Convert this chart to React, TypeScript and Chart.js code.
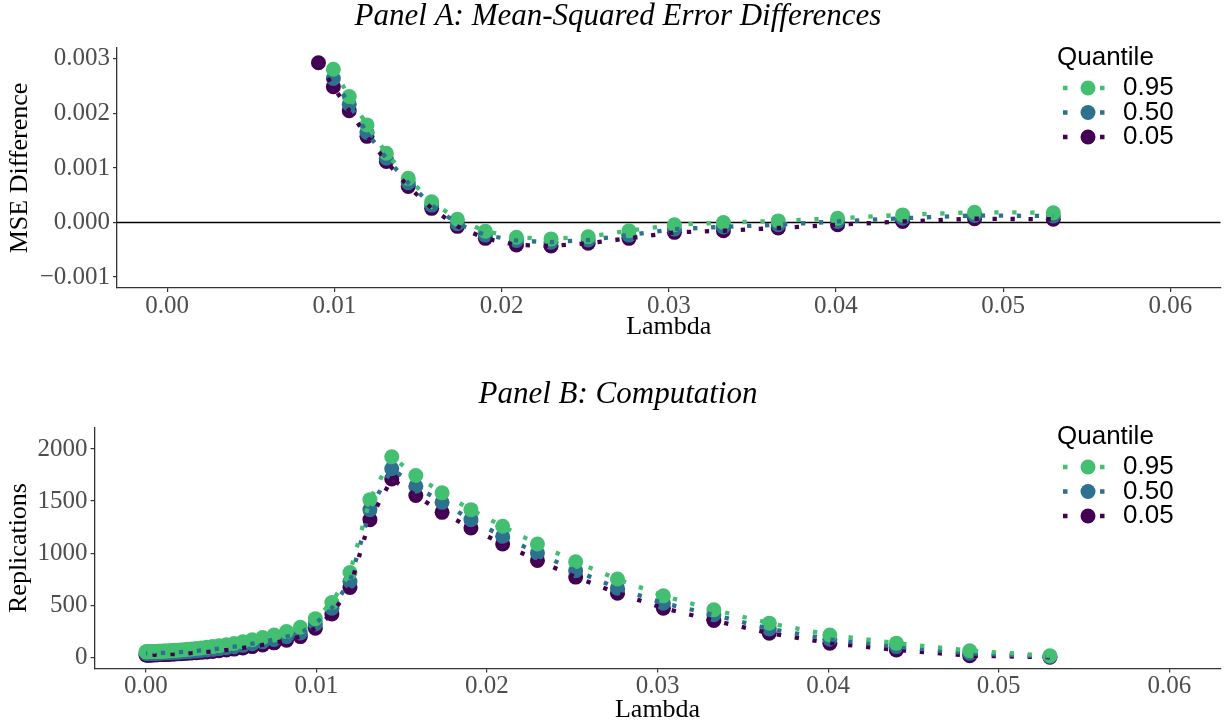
import React, { useEffect, useRef } from "react";
import { Chart, registerables } from "chart.js";

Chart.register(...registerables);

const SERIF = '"Liberation Serif", "Times New Roman", Times, serif';
const SANS = '"Liberation Sans", Arial, Helvetica, sans-serif';

const SERIES_LABELS = ["0.95", "0.50", "0.05"];
const SERIES_COLORS = ["#43BF71", "#2D718E", "#440154"];

const X_TICKS = [0, 0.01, 0.02, 0.03, 0.04, 0.05, 0.06];
const A_Y_TICKS = [-0.001, 0, 0.001, 0.002, 0.003];
const B_Y_TICKS = [0, 500, 1000, 1500, 2000];

// Panel A: MSE differences
const A_LAMBDA = [
  0.00905, 0.00994, 0.01089, 0.01195, 0.01311, 0.01442, 0.01582, 0.01736, 0.01903, 0.02089,
  0.02296, 0.02518, 0.02762, 0.03034, 0.03327, 0.03655, 0.0401, 0.04399, 0.04829, 0.053,
];
const A_Q95 = [
  null, 0.00281, 0.00231, 0.00179, 0.00127, 0.00081, 0.00038, 0.00006, -0.00016, -0.00027,
  -0.0003, -0.00026, -0.00015, -0.00004, 0.0, 0.00003, 0.00008, 0.00014, 0.00019, 0.00018,
];
const A_Q50 = [
  null, 0.00264, 0.00217, 0.00165, 0.00118, 0.00073, 0.00032, -0.00002, -0.00023, -0.00033,
  -0.00036, -0.00032, -0.00023, -0.00012, -0.00008, -0.00004, 0.00002, 0.00008, 0.00013, 0.00012,
];
const A_Q05 = [
  0.00293, 0.00249, 0.00205, 0.00158, 0.00112, 0.00066, 0.00026, -0.00007, -0.00029, -0.00041,
  -0.00043, -0.00038, -0.00029, -0.00018, -0.00015, -0.0001, -0.00004, 0.00002, 0.00007, 0.00006,
];

// Panel B: computation (replications)
const B_LAMBDA = [
  0.053, 0.0483, 0.044, 0.0401, 0.03655, 0.0333, 0.03034, 0.02765, 0.0252, 0.02296,
  0.02092, 0.01906, 0.01737, 0.01583, 0.01442, 0.01314, 0.01197, 0.01091, 0.00994, 0.00906,
  0.00825, 0.00752, 0.00685, 0.00624, 0.00569, 0.00518, 0.00472, 0.0043, 0.00392, 0.00357,
  0.00325, 0.00297, 0.0027, 0.00246, 0.00224, 0.00204, 0.00186, 0.0017, 0.00155, 0.00141,
  0.00128, 0.00117, 0.00107, 0.00097, 0.00088, 0.0008, 0.00073, 0.00067, 0.00061, 0.00055,
  0.0005, 0.00046, 0.00042, 0.00038, 0.00035, 0.00032, 0.00029, 0.00026, 0.00024, 0.00022,
  0.0002, 0.00015, 0.0001, 0.00005, 0.00001,
];
const B_Q95 = [
  17, 65, 137, 216, 329, 457, 591, 752, 918, 1088,
  1258, 1418, 1579, 1745, 1925, 1514, 815, 527, 372, 290,
  248, 216, 192, 170, 150, 134, 122, 112, 104, 97,
  91, 86, 82, 78, 75, 72, 70, 68, 66, 65,
  63, 62, 61, 60, 60, 59, 59, 58, 58, 58,
  57, 57, 57, 57, 56, 56, 56, 56, 56, 56,
  56, 56, 55, 55, 55,
];
const B_Q50 = [
  8, 40, 104, 175, 274, 409, 521, 665, 832, 1002,
  1162, 1322, 1488, 1642, 1810, 1418, 729, 473, 322, 235,
  200, 172, 150, 132, 116, 103, 93, 85, 78, 72,
  67, 63, 59, 56, 54, 52, 50, 49, 47, 46,
  45, 45, 44, 44, 43, 43, 43, 42, 42, 42,
  42, 41, 41, 41, 41, 41, 41, 41, 40, 40,
  40, 40, 40, 40, 40,
];
const B_Q05 = [
  2, 17, 72, 137, 233, 354, 473, 617, 771, 931,
  1088, 1242, 1392, 1553, 1713, 1322, 671, 418, 281, 200,
  165, 140, 120, 104, 91, 80, 71, 64, 58, 53,
  49, 46, 43, 40, 38, 36, 35, 33, 32, 31,
  30, 30, 29, 29, 28, 28, 27, 27, 27, 26,
  26, 26, 26, 25, 25, 25, 25, 25, 25, 25,
  25, 24, 24, 24, 24,
];

const LINE_W = 4.3;
const DASH = [4.3, 13.7];
const POINT_R = 7.5;

function buildDatasets(lambda: number[], series: (number | null)[][]) {
  const lines = series.map((vals, i) => ({
    type: "line" as const,
    data: lambda.map((x, j) => ({ x, y: vals[j] })),
    borderColor: SERIES_COLORS[i],
    backgroundColor: SERIES_COLORS[i],
    borderWidth: LINE_W,
    borderDash: DASH,
    borderCapStyle: "butt" as const,
    pointRadius: 0,
    pointHoverRadius: 0,
    fill: false,
    tension: 0,
    order: 0,
  }));
  const pts = series.map((vals, i) => ({
    type: "line" as const,
    data: lambda.map((x, j) => ({ x, y: vals[j] })),
    showLine: false,
    borderColor: SERIES_COLORS[i],
    backgroundColor: SERIES_COLORS[i],
    pointBackgroundColor: SERIES_COLORS[i],
    pointBorderWidth: 0,
    pointRadius: POINT_R,
    pointHoverRadius: POINT_R,
    order: 1,
  }));
  return [...lines, ...pts];
}

function overlayPlugin(title: string, titleY: number, legendTop: number, zeroLine: boolean) {
  return {
    id: "overlay",
    beforeDatasetsDraw(chart: any) {
      if (!zeroLine) return;
      const { ctx, chartArea, scales } = chart;
      const y = scales.y.getPixelForValue(0);
      ctx.save();
      ctx.strokeStyle = "#000";
      ctx.lineWidth = 1.4;
      ctx.beginPath();
      ctx.moveTo(chartArea.left, y);
      ctx.lineTo(chartArea.right, y);
      ctx.stroke();
      ctx.restore();
    },
    afterDraw(chart: any) {
      const ctx = chart.ctx as CanvasRenderingContext2D;
      ctx.save();
      ctx.font = `italic 31px ${SERIF}`;
      ctx.fillStyle = "#000";
      ctx.textAlign = "center";
      ctx.textBaseline = "middle";
      ctx.fillText(title, 618, titleY);

      ctx.font = `26px ${SANS}`;
      ctx.textAlign = "left";
      ctx.fillText("Quantile", 1057, legendTop);
      SERIES_LABELS.forEach((lab, i) => {
        const y = legendTop + 30 + i * 24.5;
        const c = SERIES_COLORS[i];
        ctx.strokeStyle = c;
        ctx.lineWidth = LINE_W;
        ctx.lineCap = "butt";
        ctx.setLineDash([4.5, 14]);
        ctx.beginPath();
        ctx.moveTo(1063, y);
        ctx.lineTo(1106, y);
        ctx.stroke();
        ctx.setLineDash([]);
        ctx.fillStyle = c;
        ctx.beginPath();
        ctx.arc(1088, y, POINT_R, 0, Math.PI * 2);
        ctx.fill();
        ctx.fillStyle = "#000";
        ctx.fillText(lab, 1123, y);
      });
      ctx.restore();
    },
  };
}

interface PanelOpts {
  title: string;
  titleY: number;
  legendTop: number;
  zeroLine: boolean;
  lambda: number[];
  series: (number | null)[][];
  yMin: number;
  yMax: number;
  yTicks: number[];
  yFmt: (v: number) => string;
  yTitle: string;
  yTitlePad: number;
  yWidth: number;
  xHeight: number;
  xTitlePad: number;
  padTop: number;
  padRight: number;
}

function makeConfig(o: PanelOpts): any {
  const tickFont = { family: SERIF, size: 25, lineHeight: 1 };
  const titleFont = { family: SERIF, size: 26, lineHeight: 1 };
  const grid = {
    drawOnChartArea: false,
    drawTicks: true,
    tickLength: 4,
    tickColor: "#333",
    tickWidth: 1.2,
    color: "#333",
    lineWidth: 1.2,
  };
  const border = { display: true, color: "#333", width: 1.3 };
  return {
    type: "line",
    data: { datasets: buildDatasets(o.lambda, o.series) },
    options: {
      animation: false,
      responsive: false,
      maintainAspectRatio: false,
      events: [],
      layout: { padding: { top: o.padTop, right: o.padRight, left: 0, bottom: 0 } },
      plugins: { legend: { display: false }, title: { display: false }, tooltip: { enabled: false } },
      scales: {
        x: {
          type: "linear",
          min: -0.003,
          max: 0.063,
          afterBuildTicks: (s: any) => {
            s.ticks = X_TICKS.map((v) => ({ value: v }));
          },
          afterFit: (s: any) => {
            s.height = o.xHeight;
          },
          ticks: {
            autoSkip: false,
            maxRotation: 0,
            padding: 2,
            color: "#4D4D4D",
            font: tickFont,
            callback: (v: any) => Number(v).toFixed(2),
          },
          grid,
          border,
          title: {
            display: true,
            text: "Lambda",
            color: "#000",
            font: titleFont,
            padding: { top: 0, bottom: o.xTitlePad },
          },
        },
        y: {
          type: "linear",
          min: o.yMin,
          max: o.yMax,
          afterBuildTicks: (s: any) => {
            s.ticks = o.yTicks.map((v) => ({ value: v }));
          },
          afterFit: (s: any) => {
            s.width = o.yWidth;
          },
          ticks: {
            autoSkip: false,
            padding: 3,
            color: "#4D4D4D",
            font: tickFont,
            callback: (v: any) => o.yFmt(Number(v)),
          },
          grid,
          border,
          title: {
            display: true,
            text: o.yTitle,
            color: "#000",
            font: titleFont,
            padding: { top: o.yTitlePad, bottom: 0 },
          },
        },
      },
    },
    plugins: [overlayPlugin(o.title, o.titleY, o.legendTop, o.zeroLine)],
  };
}

const fmtA = (v: number) => {
  const s = Math.abs(v).toFixed(3);
  return v < -1e-9 ? "\u2212" + s : s;
};
const fmtB = (v: number) => String(Math.round(v));

function Panel({ opts, top, height }: { opts: PanelOpts; top: number; height: number }) {
  const ref = useRef<HTMLCanvasElement>(null);
  useEffect(() => {
    const chart = new Chart(ref.current as HTMLCanvasElement, makeConfig(opts));
    return () => chart.destroy();
  }, []);
  return (
    <canvas
      ref={ref}
      width={1228}
      height={height}
      style={{ position: "absolute", left: 0, top, width: 1228, height, display: "block" }}
    />
  );
}

const PANEL_A: PanelOpts = {
  title: "Panel A: Mean-Squared Error Differences",
  titleY: 17,
  legendTop: 58,
  zeroLine: true,
  lambda: A_LAMBDA,
  series: [A_Q95, A_Q50, A_Q05],
  yMin: -0.0012,
  yMax: 0.0032,
  yTicks: A_Y_TICKS,
  yFmt: fmtA,
  yTitle: "MSE Difference",
  yTitlePad: 7,
  yWidth: 117,
  xHeight: 62,
  xTitlePad: 10,
  padTop: 48,
  padRight: 2.5,
};

const PANEL_B: PanelOpts = {
  title: "Panel B: Computation",
  titleY: 45,
  legendTop: 87,
  zeroLine: false,
  lambda: B_LAMBDA,
  series: [B_Q95, B_Q50, B_Q05],
  yMin: -105,
  yMax: 2205,
  yTicks: B_Y_TICKS,
  yFmt: fmtB,
  yTitle: "Replications",
  yTitlePad: 6,
  yWidth: 94.6,
  xHeight: 56.6,
  xTitlePad: 2,
  padTop: 77.6,
  padRight: 1.5,
};

export default function App() {
  return (
    <div style={{ position: "absolute", left: 0, top: 0, width: 1228, height: 725, background: "#fff", overflow: "hidden" }}>
      <Panel opts={PANEL_A} top={0} height={350} />
      <Panel opts={PANEL_B} top={350} height={375} />
    </div>
  );
}
